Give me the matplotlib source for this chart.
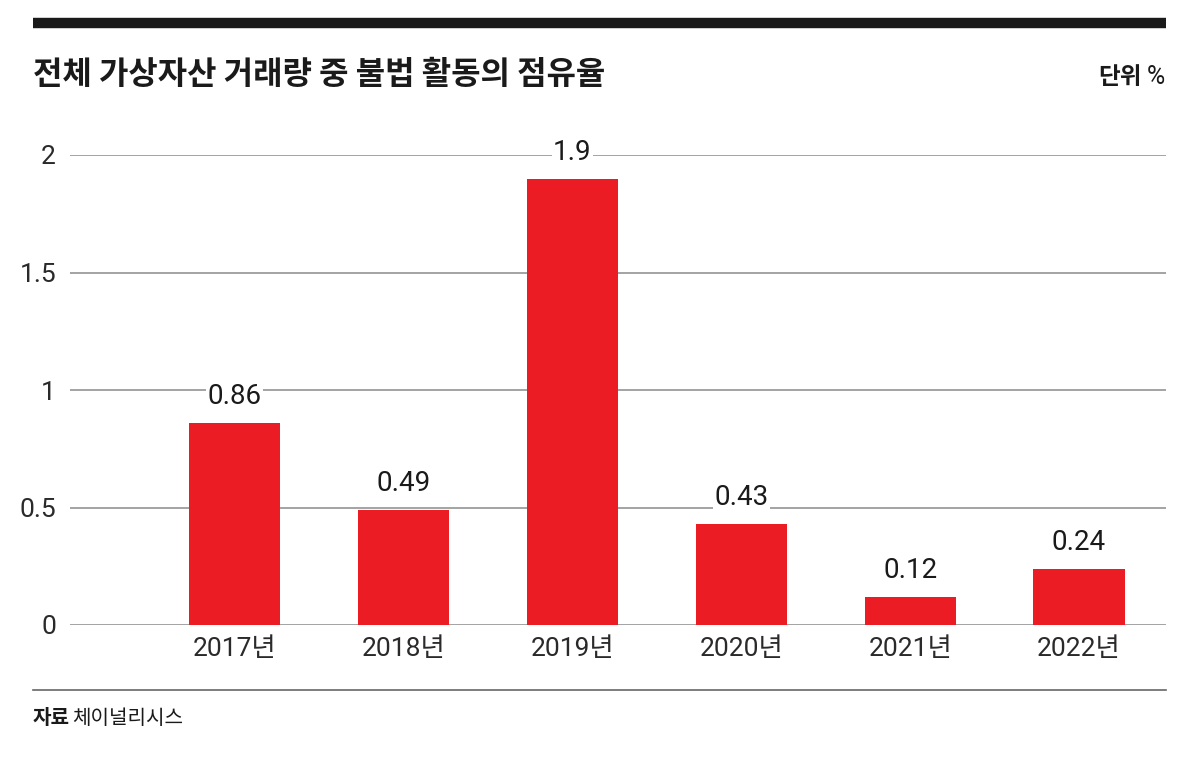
import matplotlib
matplotlib.use('Agg')
import matplotlib.pyplot as plt

plt.rcParams['font.family'] = ['Noto Sans CJK KR', 'DejaVu Sans']

years = ['2017년', '2018년', '2019년', '2020년', '2021년', '2022년']
shares = [0.86, 0.49, 1.9, 0.43, 0.12, 0.24]
value_labels = ['0.86', '0.49', '1.9', '0.43', '0.12', '0.24']
yticks = [0, 0.5, 1, 1.5, 2]
ytick_labels = ['0', '0.5', '1', '1.5', '2']

RED = '#ec1c24'
W, H = 1200, 763
num_font = ['Roboto', 'Noto Sans CJK KR']

fig = plt.figure(figsize=(12, 7.63), dpi=100)
fig.patch.set_facecolor('white')

# black bar on top
fig.add_artist(plt.Line2D([33/W, 1166/W], [1 - 23/H, 1 - 23/H], color='#1a1a1a', lw=7.5, solid_capstyle='butt'))

fig.text(33/W, 1 - 75/H, '전체 가상자산 거래량 중 불법 활동의 점유율', fontsize=23, fontweight='bold',
         color='#1a1a1a', va='center', ha='left')
fig.text(1165/W, 1 - 77/H, '%', fontsize=18, family=num_font, color='#1a1a1a',
         va='center', ha='right')
fig.text(1142/W, 1 - 77/H, '단위', fontsize=17, fontweight='bold', color='#1a1a1a', va='center', ha='right')

ax = fig.add_axes([70/W, 1 - 625/H, (1166 - 70)/W, (625 - 155)/H])
x = list(range(len(years)))
bars = ax.bar(x, shares, width=0.54, color=RED, zorder=3)
ax.set_xlim(-0.975, 5.515)
ax.set_ylim(0, 2)

for xi, v, lab in zip(x, shares, value_labels):
    ax.annotate(lab, (xi, v), xytext=(0, 9), textcoords='offset points', ha='center', va='bottom',
                fontsize=20, family=num_font, color='#1a1a1a', zorder=5, annotation_clip=False,
                bbox=dict(facecolor='white', edgecolor='none', pad=1))

for t in yticks:
    ax.axhline(t, color='#8a8a8a', lw=1.1, zorder=1)
ax.set_yticks(yticks)
ax.set_yticklabels(ytick_labels, fontsize=19, family=num_font, color='#2a2a2a')
ax.set_xticks(x)
ax.set_xticklabels(years, fontsize=19, family=num_font, color='#2a2a2a')
ax.tick_params(axis='both', length=0)
ax.tick_params(axis='y', pad=10)
ax.tick_params(axis='x', pad=9)
for s in ax.spines.values():
    s.set_visible(False)

# bottom rule and source
fig.add_artist(plt.Line2D([33/W, 1166/W], [1 - 690/H, 1 - 690/H], color='#666666', lw=1.2))
fig.text(33/W, 1 - 718/H, '자료', fontsize=14.5, fontweight='bold', color='#1a1a1a', va='center', ha='left')
fig.text(72/W, 1 - 718/H, '체이널리시스', fontsize=14.5, color='#1a1a1a', va='center', ha='left')

fig.savefig('out.png', dpi=100, facecolor='white')
